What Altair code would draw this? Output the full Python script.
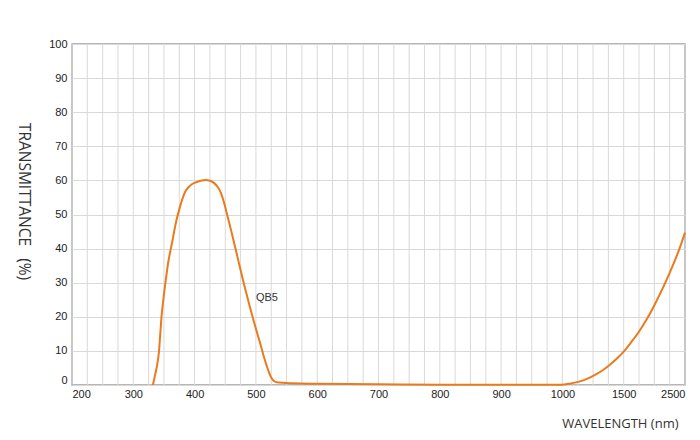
import altair as alt
import pandas as pd

# ---- data ----
wavelength = [332, 335, 338, 342, 344, 346, 349, 353, 357, 363, 370, 375, 380, 385, 390, 395,
              400, 410, 418, 425, 432, 438, 443, 448, 453, 460, 470, 480, 490, 500, 507,
              513, 520, 525, 530, 537, 560, 600, 700, 800, 900, 1000, 1030, 1060, 1136,
              1200, 1258, 1320, 1380, 1440, 1500, 1620, 1751, 1880, 2023, 2160, 2295,
              2400, 2500]
transmittance = [0, 2.5, 5, 10, 15, 20, 25, 30.8, 36, 41.5, 48, 51.5, 54.5, 56.8, 58, 58.8,
                 59.3, 59.9, 60.1, 59.9, 59.2, 58, 56.3, 53.5, 50, 45, 37.5, 30, 23, 16.5, 12.2,
                 8.3, 4.4, 2.2, 1.1, 0.7, 0.5, 0.35, 0.2, 0.1, 0.1, 0.1, 0.2, 0.4, 1.0,
                 1.8, 2.8, 4.1, 5.7, 7.6, 9.8, 12.5, 15.7, 19.4, 24.2, 29.3, 34.8,
                 39.5, 44.7]

x_grid_values = [200, 225, 250, 275, 300, 325, 350, 375, 400, 425, 450, 475, 500, 525,
                 550, 575, 600, 625, 650, 675, 700, 725, 750, 775, 800, 825, 850, 875,
                 900, 925, 950, 975, 1000, 1125, 1250, 1375, 1500, 1750, 2000, 2250, 2500]
x_label_values = [200, 300, 400, 500, 600, 700, 800, 900, 1000, 1500, 2500]
y_tick_values = [0, 10, 20, 30, 40, 50, 60, 70, 80, 90, 100]
x_breaks = [200, 1000, 1500, 2500]

series_name = ["QB5"]
series_label_x = [500]
series_label_y = [25.5]

W, H = 613, 341
x_range = [0, W * 8 / 10, W * 9 / 10, W]

df = pd.DataFrame({"wl": wavelength, "t": transmittance})
lab = pd.DataFrame({"name": series_name, "wl": series_label_x, "t": series_label_y})
grid = pd.DataFrame({"wl": x_grid_values})

xscale = alt.Scale(domain=x_breaks, range=x_range)
yscale = alt.Scale(domain=[0, 100])

x_axis = alt.Axis(
    values=x_label_values,
    format="d",
    labelOverlap=False,
    grid=False,
    title="WAVELENGTH (nm)",
    titleX=606, titleY=38, titleAlign="right", titleBaseline="middle",
    titleAnchor="end",
    titleFontSize=13,
    labelPadding=3,
)
y_axis = alt.Axis(
    values=y_tick_values,
    format="d",
    labelOverlap=False,
    title="TRANSMITTANCE\u00a0\u00a0\u00a0(%)",
    titleAngle=90, titleX=-49, titleY=157, titleAlign="center", titleBaseline="middle",
    titleFontSize=15.5,
    labelPadding=5,
    labelBaseline={"condition": {"test": "datum.value === 0", "value": "bottom"}, "value": "middle"},
)

rules = alt.Chart(grid).mark_rule(color="#d9d9d9", strokeWidth=1).encode(
    x=alt.X("wl:Q", scale=xscale, axis=x_axis),
)

line = alt.Chart(df).mark_line(color="#E97B1C", strokeWidth=2, interpolate="monotone").encode(
    x=alt.X("wl:Q", scale=xscale, axis=x_axis),
    y=alt.Y("t:Q", scale=yscale, axis=y_axis),
)

text = alt.Chart(lab).mark_text(align="left", baseline="middle", fontSize=11,
                                font="Liberation Sans", color="#333333").encode(
    x=alt.X("wl:Q", scale=xscale, axis=x_axis),
    y=alt.Y("t:Q", scale=yscale, axis=y_axis),
    text="name:N",
)

chart = alt.layer(rules, line, text).properties(
    width=W, height=H,
    autosize="none",
    padding={"left": 64, "top": 36, "right": 7, "bottom": 47},
    background="white",
).configure_view(
    stroke="#9e9e9e", strokeWidth=1.5,
).configure_axis(
    domain=False, ticks=False,
    gridColor="#d9d9d9", gridWidth=1,
    labelFont="Liberation Sans", labelFontSize=11, labelColor="#222222",
    titleFont="Open Sans", titleFontWeight="normal", titleColor="#333333",
)

chart.save("out.html", embed_options={"renderer": "svg", "actions": False})
